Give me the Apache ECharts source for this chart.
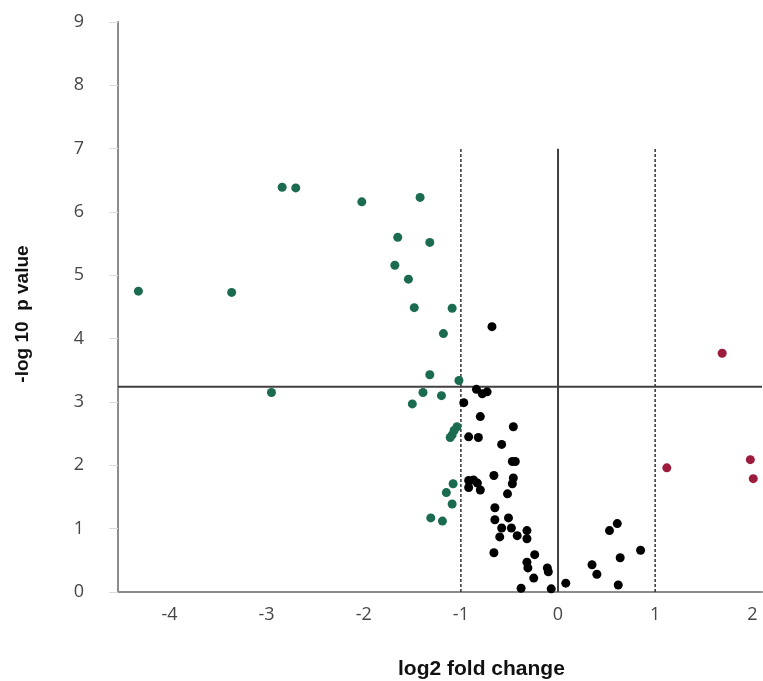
<!DOCTYPE html>
<html>
<head>
<meta charset="utf-8">
<script src="https://cdn.jsdelivr.net/npm/echarts@6/dist/echarts.min.js"></script>
<style>
  html, body { margin: 0; padding: 0; background: #fff; }
  #chart { width: 763px; height: 681px; }
</style>
</head>
<body>
<div id="chart"></div>
<script>
// down-regulated (green), log2 fold change / -log10 p
const downPoints = [
  [-2.84, 6.39], [-2.70, 6.38], [-2.02, 6.16], [-1.42, 6.23],
  [-1.65, 5.60], [-1.32, 5.52], [-1.68, 5.16], [-1.54, 4.94],
  [-4.32, 4.75], [-3.36, 4.73], [-1.48, 4.49], [-1.09, 4.48],
  [-1.18, 4.08], [-1.32, 3.43], [-1.02, 3.34], [-1.39, 3.15],
  [-1.20, 3.10], [-1.50, 2.97], [-2.95, 3.15],
  [-1.04, 2.61], [-1.07, 2.55], [-1.09, 2.48], [-1.11, 2.44],
  [-1.08, 1.71], [-1.15, 1.57], [-1.09, 1.39], [-1.31, 1.17], [-1.19, 1.12]
];
// up-regulated (red)
const upPoints = [
  [1.69, 3.77], [1.12, 1.96], [1.98, 2.09], [2.01, 1.79]
];
// not significant (black)
const otherPoints = [
  [-0.68, 4.19], [-0.84, 3.20], [-0.78, 3.13], [-0.73, 3.16], [-0.97, 2.99],
  [-0.80, 2.77], [-0.46, 2.61], [-0.92, 2.45], [-0.82, 2.44], [-0.58, 2.33],
  [-0.47, 2.06], [-0.44, 2.06], [-0.66, 1.84], [-0.46, 1.80], [-0.47, 1.71],
  [-0.92, 1.76], [-0.87, 1.77], [-0.83, 1.72], [-0.92, 1.65], [-0.80, 1.61],
  [-0.52, 1.55], [-0.65, 1.33], [-0.65, 1.14], [-0.51, 1.17], [-0.58, 1.01],
  [-0.48, 1.01], [-0.32, 0.97], [-0.60, 0.87], [-0.42, 0.89], [-0.32, 0.84],
  [-0.66, 0.62], [-0.24, 0.59], [-0.32, 0.47], [-0.31, 0.38], [-0.11, 0.38],
  [-0.10, 0.32], [-0.25, 0.22], [-0.38, 0.06], [-0.07, 0.05], [0.08, 0.14],
  [0.35, 0.43], [0.40, 0.28], [0.53, 0.97], [0.61, 1.08], [0.64, 0.54],
  [0.62, 0.11], [0.85, 0.66]
];

const xTicks = [-4, -3, -2, -1, 0, 1, 2];
const xMin = -4.53, xMax = 2.1;
const pThreshold = 3.24;      // horizontal cut-off
const foldCuts = [-1, 1];     // dashed lines
const guideTop = 7;           // height of the vertical guides

const chart = echarts.init(document.getElementById('chart'));

const labelFont = { color: '#464646', fontSize: 18, fontFamily: 'Open Sans' };
const titleFont = { fill: '#111', fontWeight: 'bold', fontFamily: 'Liberation Sans' };

const guideSeries = [
  {
    type: 'line', silent: true, symbol: 'none', z: 1,
    data: [[xMin, pThreshold], [xMax, pThreshold]],
    lineStyle: { color: '#404040', width: 2 }
  },
  {
    type: 'line', silent: true, symbol: 'none', z: 1,
    data: [[0, 0], [0, guideTop]],
    lineStyle: { color: '#404040', width: 2 }
  }
].concat(foldCuts.map(v => ({
  type: 'line', silent: true, symbol: 'none', z: 1,
  data: [[v, 0], [v, guideTop]],
  lineStyle: { color: '#333', width: 1.5, type: [3, 2] }
})));

chart.setOption({
  backgroundColor: '#fff',
  animation: false,
  grid: { left: 118, right: 1, top: 22, bottom: 89 },
  xAxis: {
    type: 'value', min: xMin, max: xMax,
    axisLine: { show: true, lineStyle: { color: '#8c8c8c', width: 2 } },
    axisTick: { show: false },
    splitLine: { show: false },
    axisLabel: Object.assign({ customValues: xTicks, margin: 14 }, labelFont)
  },
  yAxis: {
    type: 'value', min: 0, max: 9, interval: 1,
    axisLine: { show: true, onZero: false, lineStyle: { color: '#8c8c8c', width: 2 } },
    axisTick: { show: true, inside: false, length: 9, lineStyle: { color: '#dcdcdc' } },
    splitLine: { show: false },
    axisLabel: Object.assign({ margin: 34 }, labelFont)
  },
  graphic: [
    {
      type: 'text', x: 398, y: 659,
      style: Object.assign({ text: 'log2 fold change', fontSize: 21 }, titleFont)
    },
    {
      type: 'text', x: 23, y: 314, rotation: Math.PI / 2,
      style: Object.assign({ text: '-log 10  p value', fontSize: 19, textAlign: 'center', textVerticalAlign: 'middle' }, titleFont)
    }
  ],
  series: guideSeries.concat([
    { type: 'scatter', data: otherPoints, symbolSize: 9, z: 3, itemStyle: { color: '#000', opacity: 1 } },
    { type: 'scatter', data: downPoints, symbolSize: 9, z: 3, itemStyle: { color: '#1a6b50', opacity: 1 } },
    { type: 'scatter', data: upPoints, symbolSize: 9, z: 3, itemStyle: { color: '#9b1c3c', opacity: 1 } }
  ])
});
</script>
</body>
</html>
